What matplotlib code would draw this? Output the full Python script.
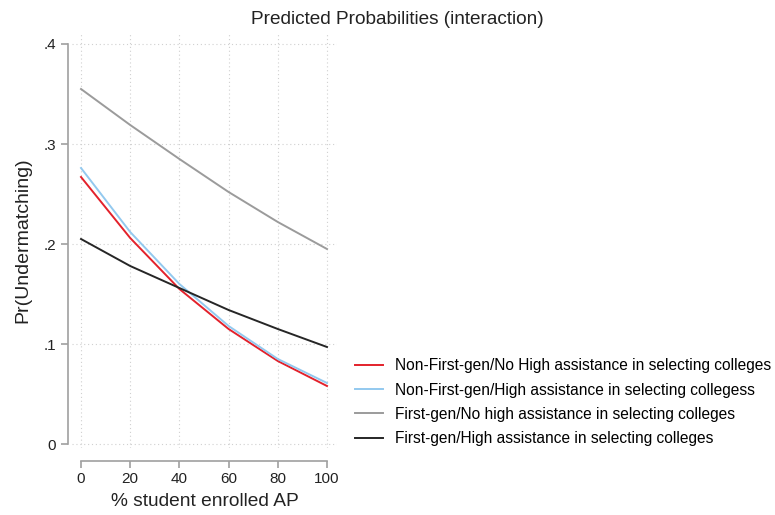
import matplotlib.pyplot as plt

plt.rcParams['font.family'] = ['Liberation Sans', 'DejaVu Sans']

ap_pct = [0, 20, 40, 60, 80, 100]
nonfirst_nohigh = [0.267, 0.206, 0.155, 0.115, 0.083, 0.058]
nonfirst_high = [0.276, 0.212, 0.160, 0.118, 0.085, 0.061]
first_nohigh = [0.355, 0.319, 0.285, 0.252, 0.222, 0.195]
first_high = [0.205, 0.178, 0.156, 0.134, 0.115, 0.097]

labels = [
    "Non-First-gen/No High assistance in selecting colleges",
    "Non-First-gen/High assistance in selecting collegess",
    "First-gen/No high assistance in selecting colleges",
    "First-gen/High assistance in selecting colleges",
]
colors = ["#e3212b", "#93c9ef", "#9b9b9b", "#262626"]
yticks = [0, 0.1, 0.2, 0.3, 0.4]
ytick_labels = ["0", ".1", ".2", ".3", ".4"]
xticks = [0, 20, 40, 60, 80, 100]

W, H = 775, 515
fig = plt.figure(figsize=(W / 100, H / 100), dpi=100)

# axes box in pixels: left 72, right 337, top 33, bottom 448
left, right, top, bottom = 72, 337, 33, 448
ax = fig.add_axes([left / W, 1 - bottom / H, (right - left) / W, (bottom - top) / H])

series = [nonfirst_nohigh, nonfirst_high, first_nohigh, first_high]
for vals, lab, c in zip(series, labels, colors):
    ax.plot(ap_pct, vals, color=c, lw=1.4, label=lab)

ax.set_xlim(-3.66, 104.07)
ax.set_ylim(-0.004, 0.411)
ax.set_xticks(xticks)
ax.set_yticks(yticks)
ax.set_yticklabels(ytick_labels)

ax.grid(True, color="#d0d0d0", linestyle=(0, (1, 2.5)), lw=0.8)
ax.set_axisbelow(True)

for s in ["top", "right"]:
    ax.spines[s].set_visible(False)
ax.spines["left"].set_position(("outward", 3))
ax.spines["bottom"].set_position(("outward", 9))
ax.spines["left"].set_bounds(0, 0.4)
ax.spines["bottom"].set_bounds(0, 100)
for s in ["left", "bottom"]:
    ax.spines[s].set_color("#a0a0a0")
    ax.spines[s].set_linewidth(1.2)
ax.tick_params(colors="#a0a0a0", labelcolor="#222222", labelsize=11, length=5, width=1.2)

ax.set_xlabel("% student enrolled AP", fontsize=13.8, color="#222222", labelpad=5)
ax.set_ylabel("Pr(Undermatching)", fontsize=14, color="#222222", labelpad=9)

fig.text(397 / W, 1 - 19 / H, "Predicted Probabilities (interaction)",
         ha="center", va="center", fontsize=13.7, color="#222222")

ax.legend(loc="upper left", bbox_to_anchor=(349 / W, 1 - 352 / H),
          bbox_transform=fig.transFigure, frameon=False, fontsize=11.2,
          handlelength=1.8, handletextpad=0.77, labelspacing=0.6,
          borderaxespad=0)

fig.savefig("out.png", dpi=100)
